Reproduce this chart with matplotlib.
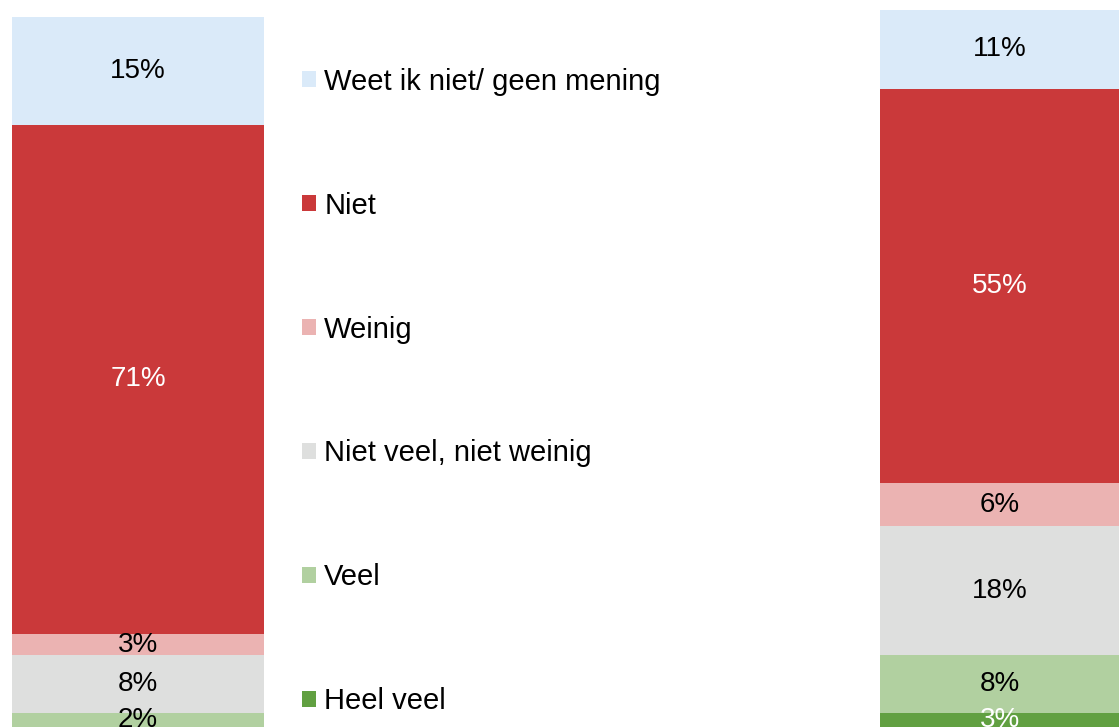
import matplotlib.pyplot as plt
import numpy as np

plt.rcParams['font.family'] = ['Liberation Sans', 'DejaVu Sans']

# stacked from bottom to top
categories = ["Heel veel", "Veel", "Niet veel, niet weinig", "Weinig", "Niet",
              "Weet ik niet/ geen mening"]
left_values = [1, 2, 8, 3, 71, 15]
right_values = [3, 8, 18, 6, 55, 11]

colors = ["#61A041", "#B1D0A0", "#DEDFDE", "#EBB3B2", "#CA393A", "#DAEAF9"]
text_colors = ["white", "black", "black", "black", "white", "black"]

fig = plt.figure(figsize=(11.19, 7.27), dpi=100)
ax = fig.add_axes([0, 0, 1, 1])

x = np.array([0, 1])
bottom = np.zeros(2)
handles = []
for i, cat in enumerate(categories):
    vals = np.array([left_values[i], right_values[i]])
    bars = ax.bar(x, vals, width=0.29, bottom=bottom, color=colors[i], label=cat)
    labels = [f"{v}%" for v in vals]
    if i == 0:
        labels[0] = ""  # too thin on the left bar
    ax.bar_label(bars, labels=labels, label_type="center",
                 color=text_colors[i], fontsize=20)
    handles.append(bars)
    bottom += vals

ax.set_xlim(-0.159, 1.130)
ax.set_ylim(1.0, 102.4)
ax.axis("off")

fig.legend(handles[::-1], categories[::-1], loc="upper left",
           bbox_to_anchor=(0.27, 0.907), frameon=False, fontsize=21,
           handlelength=0.48, handleheight=0.48, handletextpad=0.28,
           labelspacing=3.29, borderpad=0, borderaxespad=0)

fig.savefig("out.png", dpi=100)
